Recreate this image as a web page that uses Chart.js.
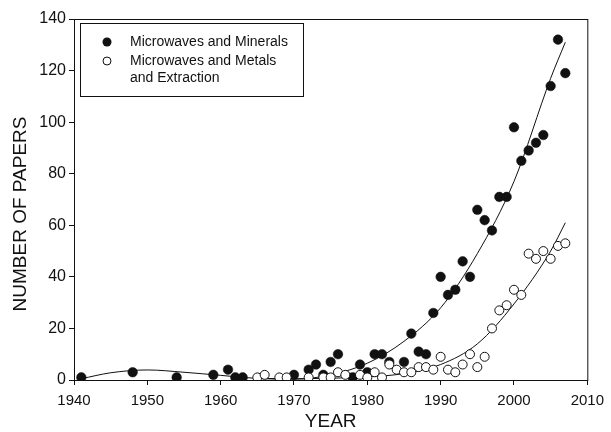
<!DOCTYPE html>
<html>
<head>
<meta charset="utf-8">
<script src="https://cdn.jsdelivr.net/npm/chart.js@4/dist/chart.umd.min.js"></script>
<style>
  html, body { margin: 0; padding: 0; background: #fff; }
  #chart { display: block; }
</style>
</head>
<body>
<canvas id="chart" width="611" height="432"></canvas>
<script>
// ── Data ────────────────────────────────────────────────

const mineralYears  = [1941, 1948, 1954, 1959, 1961, 1962, 1963, 1970, 1972, 1973, 1974, 1975, 1976, 1978, 1979, 1980,
                       1981, 1982, 1983, 1985, 1986, 1987, 1988, 1989, 1990, 1991, 1992, 1993, 1994, 1995, 1996, 1997,
                       1998, 1999, 2000, 2001, 2002, 2003, 2004, 2005, 2006, 2007];
const mineralCounts = [1, 3, 1, 2, 4, 1, 1, 2, 4, 6, 2, 7, 10, 1, 6, 3,
                       10, 10, 7, 7, 18, 11, 10, 26, 40, 33, 35, 46, 40, 66, 62, 58,
                       71, 71, 98, 85, 89, 92, 95, 114, 132, 119];

const metalYears  = [1965, 1966, 1968, 1969, 1972, 1974, 1975, 1976, 1977, 1979, 1980, 1981, 1982, 1983, 1984, 1985,
                     1986, 1987, 1988, 1989, 1990, 1991, 1992, 1993, 1994, 1995, 1996, 1997, 1998, 1999, 2000, 2001,
                     2002, 2003, 2004, 2005, 2006, 2007];
const metalCounts = [1, 2, 1, 1, 1, 1, 1, 3, 2, 2, 1, 3, 1, 6, 4, 3,
                     3, 5, 5, 4, 9, 4, 3, 6, 10, 5, 9, 20, 27, 29, 35, 33,
                     49, 47, 50, 47, 52, 53];

// fitted trend lines
const mineralFitYears  = [1941, 1945, 1950, 1955, 1960, 1965, 1970, 1975, 1980, 1985, 1990, 1995, 2000, 2005, 2007];
const mineralFitCounts = [0.5, 2.8, 3.9, 3.0, 1.8, 0.6, 0.3, 2.0, 6.5, 15, 28, 49, 77, 117, 131];

const metalFitYears  = [1965, 1970, 1975, 1980, 1985, 1990, 1995, 2000, 2005, 2007];
const metalFitCounts = [0.6, 0.5, 0.7, 1.2, 2.5, 6, 14, 29.5, 50, 61];

const xTickStep = 10;
const yTickStep = 20;

const FONT = "'Liberation Sans', Arial, Helvetica, sans-serif";
const INK = '#111';

// ── Helpers ─────────────────────────────────────────────

function toPoints(xs, ys) {
  return xs.map((x, i) => ({ x, y: ys[i] }));
}

// ── Frame, axis titles and legend box ───────────────────

const decorPlugin = {
  id: 'decor',
  afterDraw(chart) {
    const { ctx, chartArea: a } = chart;
    ctx.save();
    ctx.strokeStyle = INK;
    ctx.lineWidth = 1;
    ctx.strokeRect(a.left + 0.5, a.top + 0.5, a.right - a.left, a.bottom - a.top);

    ctx.fillStyle = INK;
    ctx.font = '19px ' + FONT;
    ctx.textAlign = 'center';
    ctx.textBaseline = 'middle';
    ctx.fillText('YEAR', (a.left + a.right) / 2, 422);
    ctx.translate(21, 214);
    ctx.rotate(-Math.PI / 2);
    ctx.fillText('NUMBER OF PAPERS', 0, 0);
    ctx.restore();

    // legend
    ctx.save();
    ctx.strokeStyle = INK;
    ctx.lineWidth = 1;
    ctx.fillStyle = '#fff';
    ctx.fillRect(80.5, 23.5, 223, 73);
    ctx.strokeRect(80.5, 23.5, 223, 73);
    ctx.font = '14px ' + FONT;
    ctx.textAlign = 'left';
    ctx.textBaseline = 'middle';
    ctx.fillStyle = INK;
    ctx.beginPath();
    ctx.arc(107, 42, 4.5, 0, Math.PI * 2);
    ctx.fill();
    ctx.fillText('Microwaves and Minerals', 130, 42);
    ctx.beginPath();
    ctx.arc(107, 61, 4, 0, Math.PI * 2);
    ctx.fillStyle = '#fff';
    ctx.fill();
    ctx.stroke();
    ctx.fillStyle = INK;
    ctx.fillText('Microwaves and Metals', 130, 61);
    ctx.fillText('and Extraction', 130, 78);
    ctx.restore();
  },
};

// ── Chart ───────────────────────────────────────────────

new Chart(document.getElementById('chart'), {
  type: 'scatter',
  data: {
    datasets: [
      {
        label: 'Microwaves and Metals and Extraction',
        data: toPoints(metalYears, metalCounts),
        pointRadius: 4.5,
        pointBackgroundColor: '#fff',
        pointBorderColor: INK,
        pointBorderWidth: 1,
      },
      {
        label: 'Microwaves and Minerals',
        data: toPoints(mineralYears, mineralCounts),
        pointRadius: 4.8,
        pointBackgroundColor: INK,
        pointBorderColor: INK,
        pointBorderWidth: 0.5,
      },
      {
        label: 'metal fit',
        data: toPoints(metalFitYears, metalFitCounts),
        showLine: true,
        borderColor: INK,
        borderWidth: 1,
        pointRadius: 0,
        cubicInterpolationMode: 'monotone',
      },
      {
        label: 'mineral fit',
        data: toPoints(mineralFitYears, mineralFitCounts),
        showLine: true,
        borderColor: INK,
        borderWidth: 1,
        pointRadius: 0,
        cubicInterpolationMode: 'monotone',
      },
    ],
  },
  options: {
    responsive: false,
    animation: false,
    layout: { padding: { top: 19, right: 19, left: 0, bottom: 0 } },
    plugins: {
      legend: { display: false },
      tooltip: { enabled: false },
    },
    scales: {
      x: {
        type: 'linear',
        min: 1940,
        max: 2010,
        afterFit: s => { s.height = 52; },
        border: { color: INK, width: 1 },
        grid: { drawOnChartArea: false, tickLength: 5, tickColor: INK },
        ticks: {
          stepSize: xTickStep,
          color: INK,
          padding: 7,
          font: { family: FONT, size: 15 },
          callback: v => String(v),
        },
      },
      y: {
        min: 0,
        max: 140,
        afterFit: s => { s.width = 74; },
        border: { color: INK, width: 1 },
        grid: { drawOnChartArea: false, tickLength: 5, tickColor: INK },
        ticks: {
          stepSize: yTickStep,
          color: INK,
          padding: 3,
          font: { family: FONT, size: 16 },
        },
      },
    },
  },
  plugins: [decorPlugin],
});
</script>
</body>
</html>
